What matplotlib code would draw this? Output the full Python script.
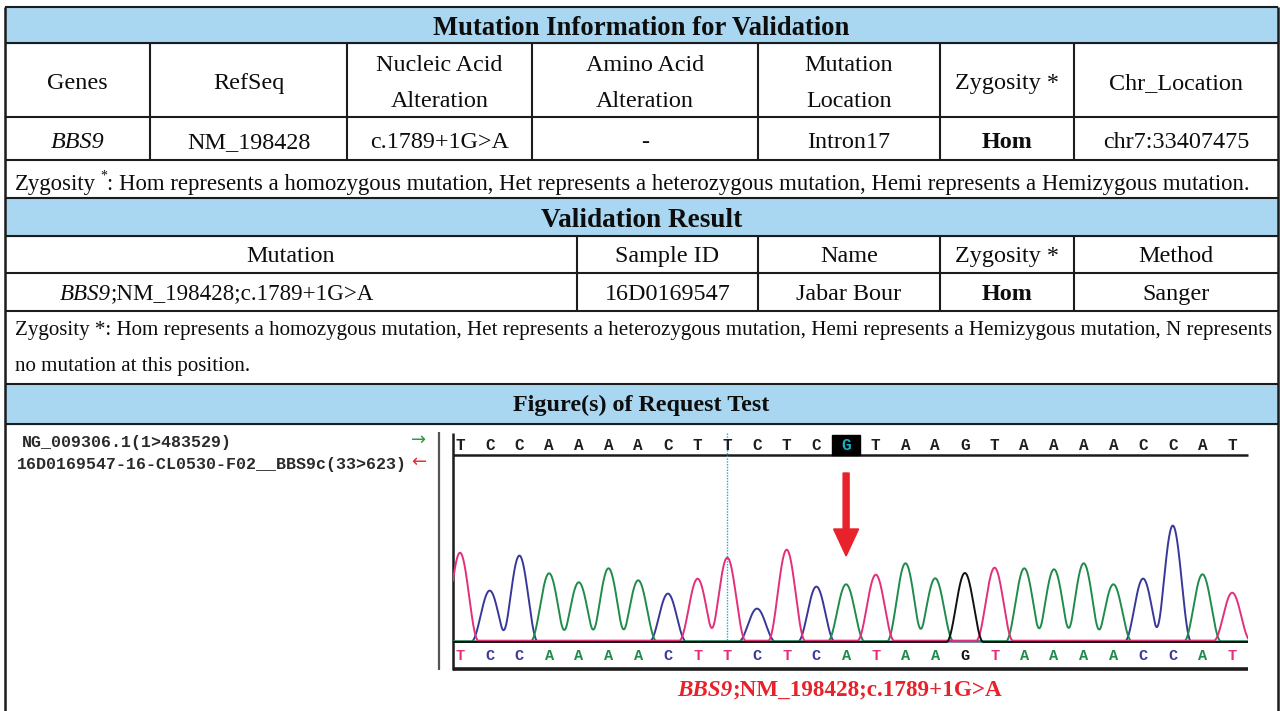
import numpy as np
import matplotlib
matplotlib.use("Agg")
import matplotlib.pyplot as plt
from matplotlib.patches import Rectangle

# ---------------- content ----------------
title_info = "Mutation Information for Validation"
info_headers = ["Genes", "RefSeq", "Nucleic Acid\nAlteration", "Amino Acid\nAlteration",
                "Mutation\nLocation", "Zygosity *", "Chr_Location"]
info_values = ["BBS9", "NM_198428", "c.1789+1G>A", "-", "Intron17", "Hom", "chr7:33407475"]
note_info = ": Hom represents a homozygous mutation, Het represents a heterozygous mutation, Hemi represents a Hemizygous mutation."

title_valid = "Validation Result"
valid_headers = ["Mutation", "Sample ID", "Name", "Zygosity *", "Method"]
valid_gene = "BBS9"
valid_values = [";NM_198428;c.1789+1G>A", "16D0169547", "Jabar Bour", "Hom", "Sanger"]
note_valid = ["Zygosity *: Hom represents a homozygous mutation, Het represents a heterozygous mutation, "
              "Hemi represents a Hemizygous mutation, N represents",
              "no mutation at this position."]

title_fig = "Figure(s) of Request Test"
ref_label = "NG_009306.1(1>483529)"
read_label = "16D0169547-16-CL0530-F02__BBS9c(33>623)"

# reference sequence and base calls of the trace
ref_seq = "TCCAAAACTTCTCGTAAGTAAAACCAT"
call_seq = "TCCAAAACTTCTCATAAGTAAAACCAT"
# peak heights (one per base call)
peak_height = [88, 51, 86, 68, 59, 73, 61, 48, 62, 83, 33, 91, 55, 57,
               66, 78, 63, 69, 73, 73, 72, 78, 57, 63, 116, 67, 48]
mut_index = 13
cursor_index = 9
caption_gene = "BBS9"
caption_rest = ";NM_198428;c.1789+1G>A"

# ---------------- style ----------------
SERIF = "Liberation Serif"
MONO = "Liberation Mono"
BAND = "#a9d7f1"
LINE = "#1c1c1c"
RED = "#e8222b"
base_color = {"T": "#e2307a", "C": "#38389a", "A": "#1f8c4c", "G": "#111111"}

fig = plt.figure(figsize=(12.8, 7.11), dpi=100)
ax = fig.add_axes([0, 0, 1, 1])
ax.set_xlim(0, 1280)
ax.set_ylim(711, 0)
ax.axis("off")
renderer = fig.canvas.get_renderer()

LEFT, RIGHT = 5, 1278


def txt(x, y, s, size, color="#0d0d0d", **kw):
    # y is the visual middle of the capital letters
    kw.setdefault("family", SERIF)
    if kw["family"] == SERIF:
        kw["va"] = "baseline"
        y = y + 0.33 * size * 100 / 72
    else:
        kw.setdefault("va", "center")
    return ax.text(x, y, s, fontsize=size, color=color, **kw)


def hline(y, x0=LEFT, x1=RIGHT, lw=1.5, color=LINE):
    ax.plot([x0, x1], [y, y], color=color, lw=lw, solid_capstyle="butt")


def vline(x, y0, y1, lw=1.5, color=LINE):
    ax.plot([x, x], [y0, y1], color=color, lw=lw, solid_capstyle="butt")


def band(y0, y1, title, size, yc):
    ax.add_patch(Rectangle((LEFT, y0), RIGHT - LEFT, y1 - y0, color=BAND, zorder=0))
    txt((LEFT + RIGHT) / 2, yc, title, size, ha="center", weight="bold")


def runs(x, y, parts, ha="left"):
    # parts: list of (text, size, kwargs, dy, gap)
    texts, widths = [], []
    for s, size, kw, dy, gap in parts:
        t = txt(0, y + dy, s, size, **kw)
        texts.append(t)
        widths.append(t.get_window_extent(renderer).width + gap)
    start = x - sum(widths) / 2 if ha == "center" else x
    for t, w in zip(texts, widths):
        t.set_x(start)
        start += w


# ---------------- section 1 ----------------
band(7, 43, title_info, 19.2, 26)
info_edges = [LEFT, 150, 347, 532, 758, 940, 1074, RIGHT]
for i, h in enumerate(info_headers):
    cx = (info_edges[i] + info_edges[i + 1]) / 2
    lines = h.split("\n")
    if len(lines) == 1:
        txt(cx, 81, h, 17.4, ha="center")
    else:
        txt(cx, 63, lines[0], 17.4, ha="center")
        txt(cx, 99, lines[1], 17.4, ha="center")
    v = info_values[i]
    kw = dict(ha="center")
    if v == "Hom":
        kw["weight"] = "bold"
    if v == "BBS9":
        kw["style"] = "italic"
    txt(cx, 140, v, 17.4, **kw)
for x in info_edges[1:-1]:
    vline(x, 43, 160)

runs(15, 182, [("Zygosity", 16.4, {}, 0, 4),
               ("*", 10, {}, -7, 0),
               (note_info, 16.4, {}, 0, 0)])

# ---------------- section 2 ----------------
band(198, 236, title_valid, 19.6, 218)
valid_edges = [LEFT, 577, 758, 940, 1074, RIGHT]
for i, h in enumerate(valid_headers):
    cx = (valid_edges[i] + valid_edges[i + 1]) / 2
    txt(cx, 254, h, 17.4, ha="center")
    if i == 0:
        runs(60, 292, [(valid_gene, 16.6, dict(style="italic"), 0, 0),
                       (valid_values[0], 16.6, {}, 0, 0)])
        continue
    kw = dict(ha="center")
    if valid_values[i] == "Hom":
        kw["weight"] = "bold"
    txt(cx, 292, valid_values[i], 17.4, **kw)
for x in valid_edges[1:-1]:
    vline(x, 236, 311)

txt(15, 328, note_valid[0], 15.1, ha="left")
txt(15, 364, note_valid[1], 15.1, ha="left")

# ---------------- section 3 ----------------
band(384, 424, title_fig, 17.4, 403)

txt(22, 443, ref_label, 12, family=MONO, weight="bold", ha="left", color="#2a2a2a")
txt(17, 464, read_label, 12, family=MONO, weight="bold", ha="left", color="#2a2a2a")
ax.text(419, 440, "\u2192", ha="center", va="center", family="DejaVu Sans", fontsize=13,
        color="#2e9a45")
ax.text(419, 462, "\u2190", ha="center", va="center", family="DejaVu Sans", fontsize=13,
        color="#e53030")

vline(439, 432, 670, lw=1.6, color="#555555")

# chromatogram frame (pixel layout)
X0, DX = 460, 29.7          # first base centre and base spacing in pixels
box_l, box_r = 453, 1248
base_x = lambda i: X0 + i * DX

vline(box_l, 433, 670, lw=1.8)
hline(455, box_l, box_r, lw=1.8)
hline(669, box_l, box_r, lw=2.6)

for i, b in enumerate(ref_seq):
    if i == mut_index:
        ax.add_patch(Rectangle((base_x(i) - 14, 435), 28, 20, color="black", zorder=2))
        ax.text(base_x(i), 446, b, ha="center", va="center", family=MONO, fontsize=11.5,
                weight="bold", color="#18b0c8", zorder=3)
    else:
        ax.text(base_x(i), 446, b, ha="center", va="center", family=MONO, fontsize=11.5,
                weight="bold", color="#1e1e1e")

for i, b in enumerate(call_seq):
    ax.text(base_x(i), 656, b, ha="center", va="center", family=MONO, fontsize=11,
            weight="bold", color=base_color[b])

# cursor line and mutation arrow
ax.plot([base_x(cursor_index)] * 2, [433, 641], color="#1aa6e0", lw=1.0, ls=(0, (1, 1)))
ax.arrow(base_x(mut_index), 473, 0, 83, width=6, head_width=25, head_length=27,
         length_includes_head=True, color=RED, zorder=4)

# traces
cax = fig.add_axes([box_l / 1280, (711 - 645) / 711, (box_r - box_l) / 1280, 190 / 711])
cax.set_xlim((box_l - X0) / DX, (box_r - X0) / DX)
cax.set_ylim(-3, 187)
cax.axis("off")
xs = np.linspace((box_l - X0) / DX, (box_r - X0) / DX, 3000)
offsets = {"C": 0.4, "A": 0.7, "T": 1.3, "G": 0.0}
for b in ["C", "A", "T", "G"]:
    y = np.full_like(xs, offsets[b])
    for i, c in enumerate(call_seq):
        if c == b:
            u = np.clip(np.abs(xs - i) / 0.62, 0, 1)
            y += peak_height[i] * 0.5 * (1 + np.cos(np.pi * u))
    cax.plot(xs, y, color=base_color[b], lw=1.4)

# caption
runs(840, 688, [(caption_gene, 16.7, dict(weight="bold", style="italic", color=RED), 0, 0),
                (caption_rest, 16.7, dict(weight="bold", color=RED), 0, 0)],
     ha="center")

# outer border and row rules
for y in [7, 43, 117, 160, 198, 236, 273, 311, 384, 424]:
    hline(y)
vline(LEFT, 7, 711, lw=1.8)
vline(RIGHT, 7, 711, lw=1.8)

fig.savefig("out.png", dpi=100)
